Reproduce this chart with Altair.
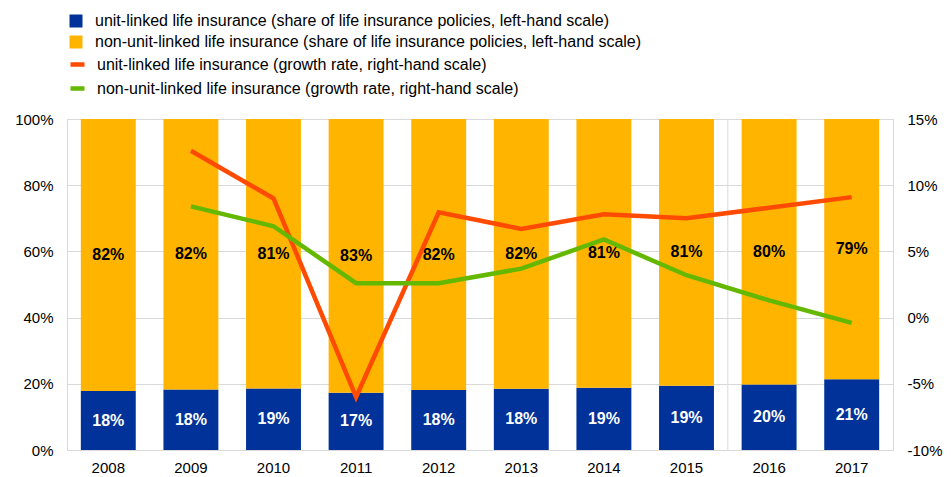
import altair as alt
import pandas as pd

years = ["2008", "2009", "2010", "2011", "2012", "2013", "2014", "2015", "2016", "2017"]
unit_share = [17.8, 18.3, 18.6, 17.3, 18.1, 18.5, 18.8, 19.4, 19.8, 21.4]
non_unit_share = [82.2, 81.7, 81.4, 82.7, 81.9, 81.5, 81.2, 80.6, 80.2, 78.6]
unit_labels = ["18%", "18%", "19%", "17%", "18%", "18%", "19%", "19%", "20%", "21%"]
non_unit_labels = ["82%", "82%", "81%", "83%", "82%", "82%", "81%", "81%", "80%", "79%"]
unit_growth = [None, 12.6, 9.0, -6.0, 7.95, 6.7, 7.8, 7.5, 8.3, 9.1]
non_unit_growth = [None, 8.4, 6.9, 2.6, 2.6, 3.7, 5.9, 3.2, 1.3, -0.4]
separator_year = ["2016"]

s_unit = "unit-linked life insurance (share of life insurance policies, left-hand scale)"
s_non = "non-unit-linked life insurance (share of life insurance policies, left-hand scale)"
g_unit = "unit-linked life insurance (growth rate, right-hand scale)"
g_non = "non-unit-linked life insurance (growth rate, right-hand scale)"

BLUE, YELLOW, RED, GREEN = "#003299", "#FFB400", "#FF4B00", "#65B800"
FONT = "Liberation Sans"
AX_FS = 15
LEG_FS = 16
PAD_INNER = 0.335

rows = []
for i, y in enumerate(years):
    rows.append({"year": y, "series": s_unit, "lo": 0, "hi": unit_share[i] / 100,
                 "mid": unit_share[i] / 200, "label": unit_labels[i], "order": 0})
    rows.append({"year": y, "series": s_non, "lo": unit_share[i] / 100,
                 "hi": (unit_share[i] + non_unit_share[i]) / 100,
                 "mid": (unit_share[i] + non_unit_share[i] / 2) / 100,
                 "label": non_unit_labels[i], "order": 1})
bars_df = pd.DataFrame(rows)

lrows = []
for i, y in enumerate(years):
    if unit_growth[i] is not None:
        lrows.append({"year": y, "series": g_unit, "v": unit_growth[i] / 100})
    if non_unit_growth[i] is not None:
        lrows.append({"year": y, "series": g_non, "v": non_unit_growth[i] / 100})
lines_df = pd.DataFrame(lrows)

xscale = alt.Scale(paddingInner=PAD_INNER, paddingOuter=PAD_INNER / 2)
xenc = alt.X("year:N", sort=years, title=None, scale=xscale,
             axis=alt.Axis(labelAngle=0, labelFontSize=AX_FS, labelFont=FONT, labelColor="#000000",
                           ticks=False, domainColor="#D9D9D9", labelPadding=10))

yleft = alt.Y("lo:Q", title=None,
              scale=alt.Scale(domain=[0, 1]),
              axis=alt.Axis(format=".0%", values=[0, 0.2, 0.4, 0.6, 0.8, 1.0], labelFontSize=AX_FS,
                            labelFont=FONT, labelColor="#000000", ticks=False, domainColor="#D9D9D9",
                            gridColor="#D9D9D9", labelPadding=14))

bars = alt.Chart(bars_df).mark_bar().encode(
    x=xenc,
    y=yleft,
    y2="hi:Q",
    fill=alt.Fill("series:N", scale=alt.Scale(domain=[s_unit, s_non], range=[BLUE, YELLOW]),
                  legend=alt.Legend(title=None, orient="none", legendX=1, legendY=-106,
                                    symbolType="square", symbolSize=169, labelFontSize=LEG_FS,
                                    labelFont=FONT, labelColor="#000000", labelOffset=11,
                                    rowPadding=5, labelLimit=800, padding=0,
                                    symbolStrokeWidth=0)),
)

texts = alt.Chart(bars_df).mark_text(fontSize=16, fontWeight="bold", font=FONT).encode(
    x=alt.X("year:N", sort=years),
    y=alt.Y("mid:Q"),
    text="label:N",
    color=alt.Color("order:N", scale=alt.Scale(domain=[0, 1], range=["#FFFFFF", "#000000"]), legend=None),
)

sep = alt.Chart(pd.DataFrame({"year": separator_year})).mark_rule(
    color="#D9D9D9", strokeWidth=1,
    xOffset=alt.expr(f"-bandwidth('x') / (2 * (1 - {PAD_INNER}))"),
).encode(
    x=alt.X("year:N", sort=years),
)

left = alt.layer(bars, sep, texts)

lines = alt.Chart(lines_df).mark_line(strokeWidth=4.5).encode(
    x=alt.X("year:N", sort=years),
    y=alt.Y("v:Q", title=None, scale=alt.Scale(domain=[-0.10, 0.15]),
            axis=alt.Axis(orient="right", format=".0%", values=[-0.10, -0.05, 0, 0.05, 0.10, 0.15],
                          labelExpr="replace(datum.label, '\u2212', '-')",
                          labelFontSize=AX_FS, labelFont=FONT, labelColor="#000000", ticks=False,
                          domain=False, grid=False, labelPadding=14)),
    stroke=alt.Stroke("series:N", scale=alt.Scale(domain=[g_unit, g_non], range=[RED, GREEN]),
                      legend=alt.Legend(title=None, orient="none", legendX=1, legendY=-64,
                                        symbolType="stroke", symbolSize=196, symbolStrokeWidth=4.5,
                                        labelFontSize=LEG_FS, labelFont=FONT, labelColor="#000000",
                                        labelOffset=10, rowPadding=5, labelLimit=800, padding=0)),
)

chart = alt.layer(left, lines).resolve_scale(y="independent").properties(
    width=826, height=331,
    autosize=alt.AutoSizeParams(type="none"),
    padding={"left": 59, "top": 111, "right": 50, "bottom": 26},
).configure_view(stroke="#D9D9D9")

chart.save("out.html", embed_options={"renderer": "svg", "actions": False})
